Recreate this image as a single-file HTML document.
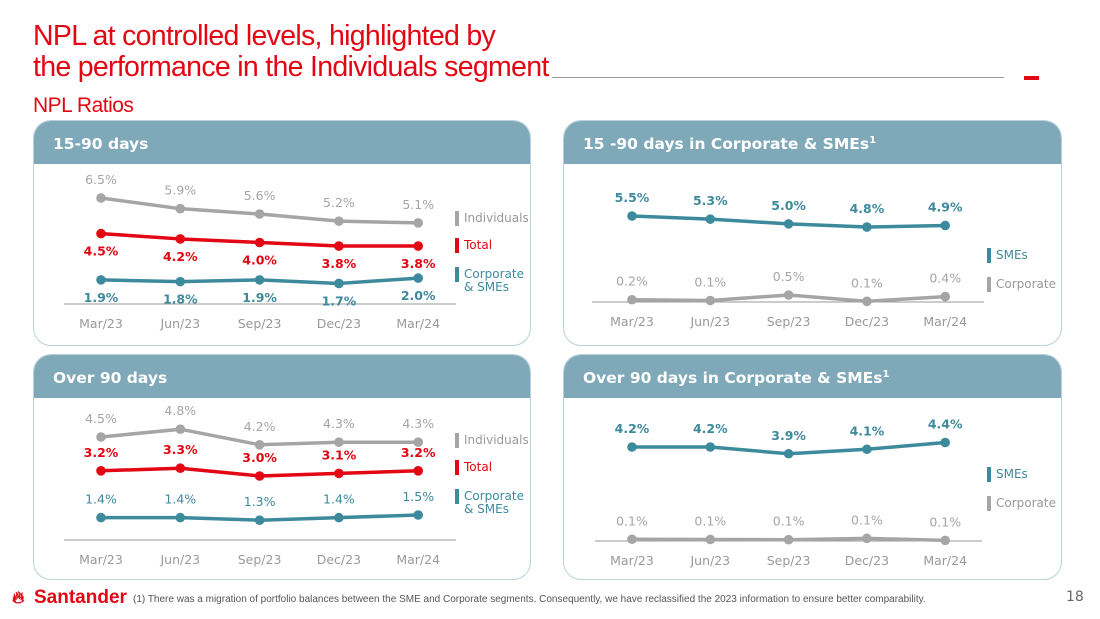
<!DOCTYPE html>
<html><head><meta charset="utf-8">
<style>
body{margin:0;width:1100px;height:619px;background:#fff;font-family:"DejaVu Sans","Liberation Sans",sans-serif;position:relative;overflow:hidden}
.abs{position:absolute}
.title{left:33px;top:21px;color:#e30613;font-family:"Liberation Sans Narrow","Liberation Sans",sans-serif;font-size:28.5px;line-height:31px;letter-spacing:-0.7px}
.panel{position:absolute;border:1.5px solid #b9d2dc;border-radius:18px;overflow:hidden;background:#fff}
.ph{height:43px;background:#7fa9b9;color:#fff;font-weight:bold;font-size:15.5px;line-height:46px;padding-left:19px;white-space:nowrap}
.ph sup{font-size:10px;line-height:0;vertical-align:6px}
</style></head><body>
<div class="abs title">NPL at controlled levels, highlighted by<br>the performance in the Individuals segment</div>
<div class="abs" style="left:552px;top:77px;width:452px;height:1px;background:#999"></div>
<div class="abs" style="left:1024px;top:76px;width:15px;height:4px;background:#e30613"></div>
<div class="abs" style="left:33px;top:94px;color:#e30613;font-family:'Liberation Sans Narrow','Liberation Sans',sans-serif;font-size:21px;letter-spacing:-0.5px">NPL Ratios</div>

<div class="panel" style="left:33px;top:120px;width:496px;height:224px"><div class="ph">15-90 days</div></div>
<div class="panel" style="left:563px;top:120px;width:497px;height:224px"><div class="ph">15 -90 days in Corporate &amp; SMEs<sup>1</sup></div></div>
<div class="panel" style="left:33px;top:354px;width:496px;height:224px"><div class="ph">Over 90 days</div></div>
<div class="panel" style="left:563px;top:354px;width:497px;height:224px"><div class="ph">Over 90 days in Corporate &amp; SMEs<sup>1</sup></div></div>

<svg id="charts" class="abs" style="left:0;top:0" width="1100" height="619"></svg>

<div class="abs" style="left:12px;top:586px;color:#e30613;font-weight:bold;font-size:19px;letter-spacing:-0.5px"><span style="font-size:17px">&#x1F525;&#xFE0E;</span></div>
<div class="abs" style="left:34px;top:587px;color:#e30613;font-size:19px;font-family:'Liberation Sans',sans-serif;font-weight:bold">Santander</div>
<div class="abs" style="left:133px;top:594px;font-size:10px;color:#555;font-family:'Liberation Sans',sans-serif;letter-spacing:0px">(1) There was a migration of portfolio balances between the SME and Corporate segments. Consequently, we have reclassified the 2023 information to ensure better comparability.</div>
<div class="abs" style="left:1066px;top:589px;font-size:14px;color:#666">18</div>

<script>
const categories=["Mar/23","Jun/23","Sep/23","Dec/23","Mar/24"];
const tl_individuals=[6.5,5.9,5.6,5.2,5.1];
const tl_total=[4.5,4.2,4.0,3.8,3.8];
const tl_corporate=[1.9,1.8,1.9,1.7,2.0];
const bl_individuals=[4.5,4.8,4.2,4.3,4.3];
const bl_total=[3.2,3.3,3.0,3.1,3.2];
const bl_corporate=[1.4,1.4,1.3,1.4,1.5];
const tr_smes=[5.5,5.3,5.0,4.8,4.9];
const tr_corporate=[0.2,0.15,0.5,0.1,0.4];
const tr_corporate_labels=["0.2%","0.1%","0.5%","0.1%","0.4%"];
const br_smes=[4.2,4.2,3.9,4.1,4.4];
const br_corporate=[0.1,0.09,0.08,0.14,0.05];
const br_corporate_labels=["0.1%","0.1%","0.1%","0.1%","0.1%"];

const NS="http://www.w3.org/2000/svg";
const svg=document.getElementById('charts');
const GRAY="#a5a5a5",RED="#e30613",TEAL="#3e8a9d";
function mk(t,a){const e=document.createElementNS(NS,t);for(const k in a)e.setAttribute(k,a[k]);svg.appendChild(e);return e;}
function chart(cfg){
  const xs=i=>cfg.x0+i*cfg.dx;
  const ys=v=>cfg.y0+(cfg.vtop-v)*cfg.k;
  const ax=mk('line',{x1:cfg.ax1,x2:cfg.ax2,y1:cfg.axy,y2:cfg.axy,stroke:'#999','stroke-width':1});
  
  
  categories.forEach((c,i)=>{const t=mk('text',{x:xs(i),y:cfg.axy+24,'text-anchor':'middle','font-size':12.5,fill:'#999'});t.textContent=c;
    
    });
  cfg.series.forEach(s=>{
    const pts=s.vals.map((v,i)=>xs(i)+','+ys(v)).join(' ');
    const pl=mk('polyline',{points:pts,fill:'none',stroke:s.color,'stroke-width':3.5,'stroke-linejoin':'round'});
    
    
    s.vals.forEach((v,i)=>{
      const c=mk('circle',{cx:xs(i),cy:ys(v),r:4.8,fill:s.color});
      
      
      const t=mk('text',{x:xs(i),y:ys(v)+(s.below?22:-14),'text-anchor':'middle','font-size':12.5,fill:s.color,'font-weight':s.bold?'bold':'normal'});
      t.textContent=s.labels?s.labels[i]:v.toFixed(1)+'%';
      
      
    });
  });
  cfg.legend.forEach(l=>{
    const r=mk('rect',{x:cfg.lx,y:l.y-11,width:4,height:15,fill:l.color});
    
    
    l.text.forEach((tx,j)=>{const t=mk('text',{x:cfg.lx+9,y:l.y+j*13,'font-size':12,fill:l.tcolor||l.color});t.textContent=tx;
      
      });
  });
}
chart({x0:101,dx:79.3,y0:198,vtop:6.5,k:17.8,axy:304,ax1:64,ax2:456,lx:455,
  series:[{name:'individuals',vals:tl_individuals,color:GRAY},{name:'total',vals:tl_total,color:RED,below:true,bold:true},{name:'corporate',vals:tl_corporate,color:TEAL,below:true,bold:true}],
  legend:[{y:222,color:GRAY,text:['Individuals'],tcolor:'#999'},{y:249,color:RED,text:['Total']},{y:278,color:TEAL,text:['Corporate','& SMEs']}]});
chart({x0:101,dx:79.3,y0:437,vtop:4.5,k:26,axy:540,ax1:64,ax2:456,lx:455,
  series:[{name:'individuals',vals:bl_individuals,color:GRAY},{name:'total',vals:bl_total,color:RED,bold:true},{name:'corporate',vals:bl_corporate,color:TEAL}],
  legend:[{y:444,color:GRAY,text:['Individuals'],tcolor:'#999'},{y:471,color:RED,text:['Total']},{y:500,color:TEAL,text:['Corporate','& SMEs']}]});
chart({x0:632,dx:78.3,y0:216,vtop:5.5,k:15.8,axy:302,ax1:592,ax2:984,lx:987,
  series:[{name:'smes',vals:tr_smes,color:TEAL,bold:true},{name:'corporate',vals:tr_corporate,color:GRAY,labels:tr_corporate_labels}],
  legend:[{y:259,color:TEAL,text:['SMEs']},{y:288,color:GRAY,text:['Corporate'],tcolor:'#999'}]});
chart({x0:632,dx:78.3,y0:447,vtop:4.2,k:22.5,axy:541,ax1:595,ax2:982,lx:987,
  series:[{name:'smes',vals:br_smes,color:TEAL,bold:true},{name:'corporate',vals:br_corporate,color:GRAY,labels:br_corporate_labels}],
  legend:[{y:478,color:TEAL,text:['SMEs']},{y:507,color:GRAY,text:['Corporate'],tcolor:'#999'}]});
</script>
</body></html>
